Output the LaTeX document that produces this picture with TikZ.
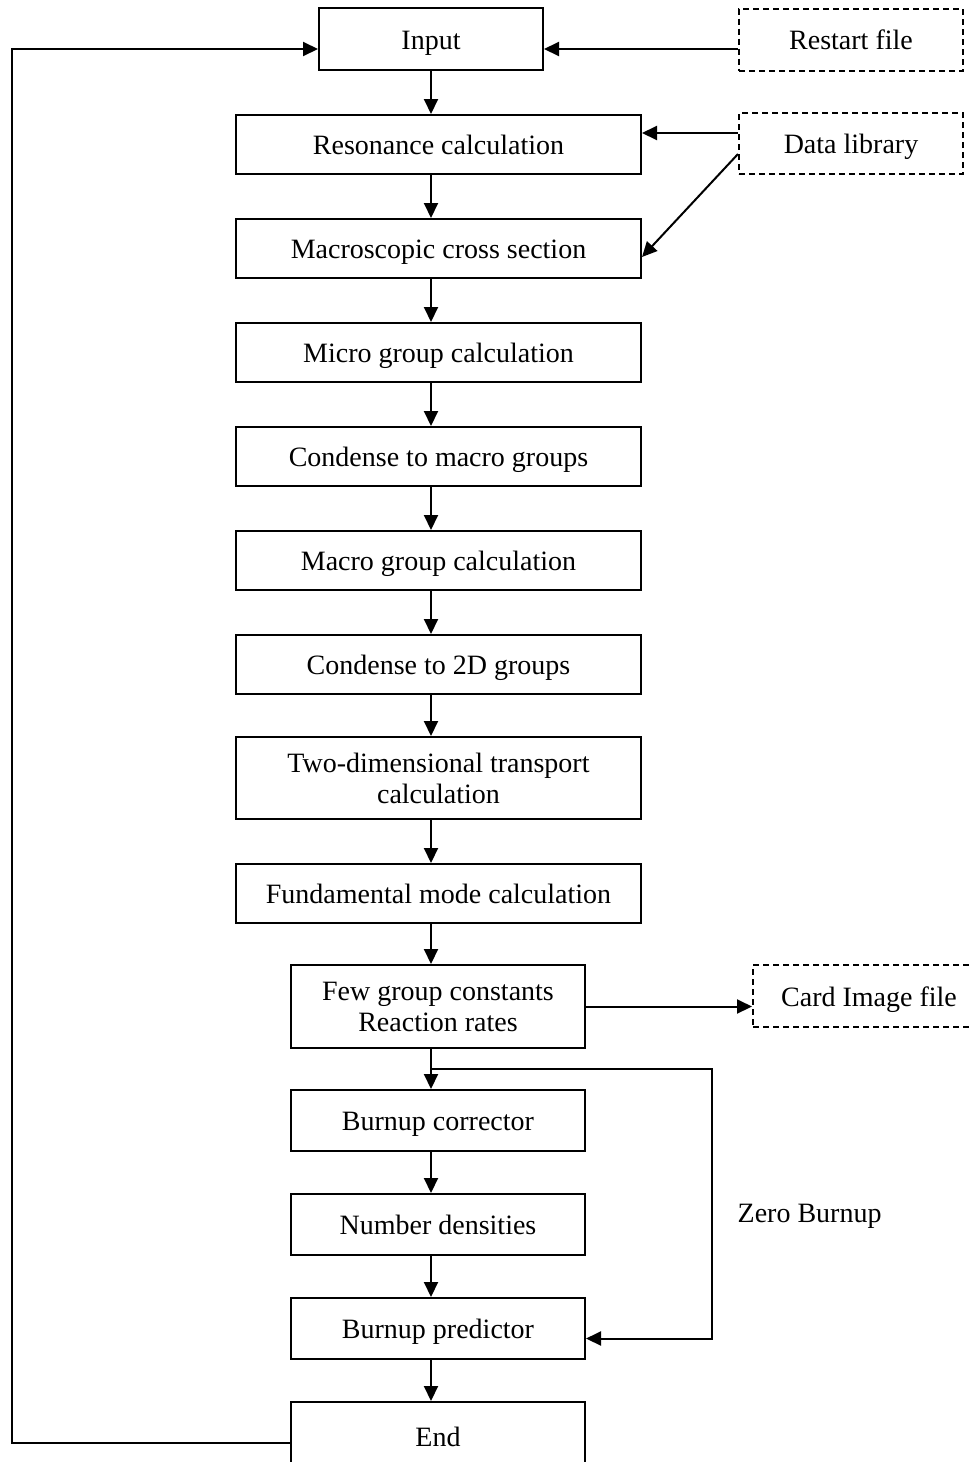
\documentclass[tikz,border=0pt]{standalone}
\usepackage{fontspec}
\setmainfont{Liberation Serif}
\usetikzlibrary{arrows.meta}

\begin{document}
\begin{tikzpicture}[x=0.5pt,y=-0.5pt,line width=1pt,>={Triangle[length=7.5pt,width=7pt]},
  stepbox/.style={draw,minimum height=29.5pt,inner sep=0pt,align=center,text height=11.5pt,text depth=1.5pt,font=\fontsize{14}{15.5}\selectfont},
  twoline/.style={text height=,text depth=},
  widebox/.style={stepbox,minimum width=202.5pt},
  narrowbox/.style={stepbox,minimum width=147pt},
  filebox/.style={stepbox,dash pattern=on 3pt off 2pt,minimum width=112pt,minimum height=31pt}]
\useasboundingbox (0,0) rectangle (972,1462);
% boxes of the main column
\node[stepbox,minimum width=112pt,minimum height=31pt] (input) at (431,39) {Input};
\node[widebox] (res) at (438.5,144.5) {Resonance calculation};
\node[widebox] (macro) at (438.5,248.5) {Macroscopic cross section};
\node[widebox] (micro) at (438.5,352.5) {Micro group calculation};
\node[widebox] (cmacro) at (438.5,456.5) {Condense to macro groups};
\node[widebox] (mgroup) at (438.5,560.5) {Macro group calculation};
\node[widebox] (ctwod) at (438.5,664.5) {Condense to 2D groups};
\node[widebox,twoline,minimum height=41pt] (twod) at (438.5,778) {Two-dimensional transport\\calculation};
\node[widebox] (fund) at (438.5,893.5) {Fundamental mode calculation};
\node[narrowbox,twoline,minimum height=41.5pt] (few) at (438,1006.5) {Few group constants\\Reaction rates};
\node[narrowbox,minimum height=30.5pt] (corr) at (438,1120.5) {Burnup corrector};
\node[narrowbox,minimum height=30.5pt] (numd) at (438,1224.5) {Number densities};
\node[narrowbox,minimum height=30.5pt] (pred) at (438,1328.5) {Burnup predictor};
\node[narrowbox,minimum height=34pt] (end) at (438,1436) {End};
% files
\node[filebox] (restart) at (851,39.5) {Restart file};
\node[filebox,minimum height=30.5pt] (datalib) at (851,143.5) {Data library};
\node[filebox,minimum width=116pt] (card) at (869,996) {Card Image file};
\node[anchor=west,font=\fontsize{14}{15.5}\selectfont] (zero) at (730,1216) {Zero Burnup};
% helper points
\coordinate (col) at (431,0);
\coordinate (split) at (431,1069);
\coordinate (loop) at (712,1069);
\coordinate (back) at (12,49);
\coordinate (libin) at (0,133);
% arrows down the column
\foreach \a/\b in {input/res,res/macro,macro/micro,micro/cmacro,cmacro/mgroup,mgroup/ctwod,ctwod/twod,twod/fund,fund/few,few/corr,corr/numd,numd/pred,pred/end}
  \draw[->] (\a.south -| col) -- (\b.north -| col);
% side arrows
\draw[->] (restart.west |- back) -- (input.east |- back);
\draw[->] (datalib.west |- libin) -- (res.east |- libin);
\draw[->] ([yshift=-5.25pt]datalib.west) -- ([yshift=-4.25pt]macro.east);
\draw[->] (few.east) -- (card.west |- few.east);
\draw[->] (split) -- (loop) |- ([yshift=-5pt]pred.east);
\draw[->] ([yshift=-3.5pt]end.west) -| (back) -- (input.west |- back);
\end{tikzpicture}
\end{document}
